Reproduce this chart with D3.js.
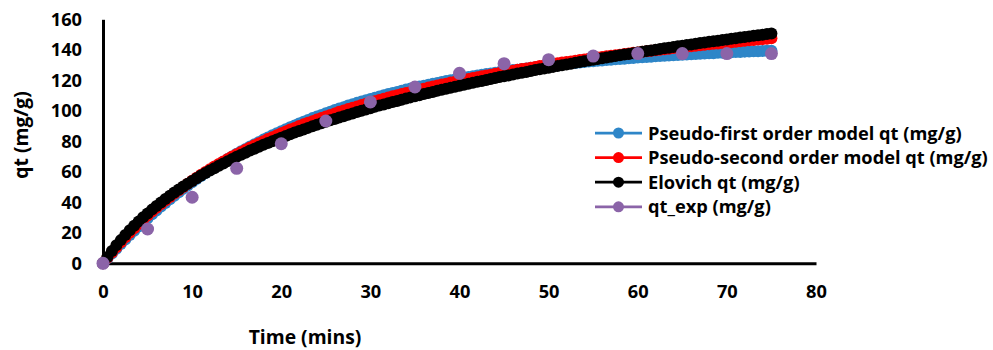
<!DOCTYPE html>
<html>
<head>
<meta charset="utf-8">
<script src="https://cdn.jsdelivr.net/npm/d3@7"></script>
<style>
  html, body { margin: 0; padding: 0; background: #fff; }
  svg { display: block; }
  text { font-family: "Open Sans", Lato, sans-serif; font-weight: 700; fill: #000; }
</style>
</head>
<body>
<svg id="chart" width="993" height="350"></svg>
<script>
// ---------- data ----------
// model curves: one marker every half minute, 0 .. 75 min
const timeModel = d3.range(0, 75.25, 0.5);
const pseudoFirst = [0, 3.3, 6.5, 9.6, 12.7, 15.6, 18.6, 21.4, 24.2, 26.9, 29.6, 32.2, 34.7, 37.2, 39.6, 42.0, 44.3, 46.6, 48.8, 51.0, 53.1, 55.2, 57.2, 59.2, 61.1, 63.0, 64.8, 66.6, 68.4, 70.1, 71.8, 73.4, 75.0, 76.6, 78.1, 79.6, 81.1, 82.5, 83.9, 85.3, 86.6, 87.9, 89.2, 90.4, 91.7, 92.9, 94.0, 95.2, 96.3, 97.3, 98.4, 99.4, 100.5, 101.5, 102.4, 103.4, 104.3, 105.2, 106.1, 106.9, 107.8, 108.6, 109.4, 110.2, 111.0, 111.7, 112.4, 113.2, 113.9, 114.6, 115.2, 115.9, 116.5, 117.1, 117.8, 118.3, 118.9, 119.5, 120.1, 120.6, 121.1, 121.7, 122.2, 122.7, 123.1, 123.6, 124.1, 124.5, 125.0, 125.4, 125.8, 126.2, 126.7, 127.0, 127.4, 127.8, 128.2, 128.5, 128.9, 129.2, 129.6, 129.9, 130.2, 130.5, 130.8, 131.1, 131.4, 131.7, 132.0, 132.3, 132.5, 132.8, 133.0, 133.3, 133.5, 133.8, 134.0, 134.2, 134.5, 134.7, 134.9, 135.1, 135.3, 135.5, 135.7, 135.9, 136.1, 136.2, 136.4, 136.6, 136.8, 136.9, 137.1, 137.2, 137.4, 137.5, 137.7, 137.8, 138.0, 138.1, 138.3, 138.4, 138.5, 138.6, 138.8, 138.9, 139.0, 139.1, 139.2, 139.3, 139.4];
const pseudoSecond = [0, 3.6, 7.1, 10.5, 13.8, 17.0, 20.0, 23.0, 25.8, 28.6, 31.3, 33.9, 36.4, 38.8, 41.2, 43.5, 45.8, 47.9, 50.1, 52.1, 54.1, 56.1, 58.0, 59.8, 61.6, 63.4, 65.1, 66.8, 68.4, 70.0, 71.5, 73.0, 74.5, 76.0, 77.4, 78.8, 80.1, 81.5, 82.7, 84.0, 85.3, 86.5, 87.7, 88.8, 90.0, 91.1, 92.2, 93.2, 94.3, 95.3, 96.3, 97.3, 98.3, 99.3, 100.2, 101.1, 102.0, 102.9, 103.8, 104.6, 105.5, 106.3, 107.1, 107.9, 108.7, 109.5, 110.2, 111.0, 111.7, 112.4, 113.2, 113.9, 114.5, 115.2, 115.9, 116.6, 117.2, 117.8, 118.5, 119.1, 119.7, 120.3, 120.9, 121.5, 122.0, 122.6, 123.2, 123.7, 124.3, 124.8, 125.3, 125.8, 126.3, 126.9, 127.4, 127.8, 128.3, 128.8, 129.3, 129.7, 130.2, 130.7, 131.1, 131.6, 132.0, 132.4, 132.9, 133.3, 133.7, 134.1, 134.5, 134.9, 135.3, 135.7, 136.1, 136.5, 136.8, 137.2, 137.6, 138.0, 138.3, 138.7, 139.0, 139.4, 139.7, 140.1, 140.4, 140.7, 141.1, 141.4, 141.7, 142.0, 142.3, 142.7, 143.0, 143.3, 143.6, 143.9, 144.2, 144.5, 144.7, 145.0, 145.3, 145.6, 145.9, 146.2, 146.4, 146.7, 147.0, 147.2, 147.5];
const elovich = [0, 4.2, 8.1, 11.8, 15.2, 18.5, 21.6, 24.6, 27.4, 30.2, 32.7, 35.2, 37.6, 39.9, 42.2, 44.3, 46.4, 48.4, 50.3, 52.2, 54.0, 55.8, 57.5, 59.2, 60.8, 62.4, 64.0, 65.5, 67.0, 68.4, 69.8, 71.2, 72.5, 73.9, 75.1, 76.4, 77.7, 78.9, 80.1, 81.2, 82.4, 83.5, 84.6, 85.7, 86.8, 87.8, 88.8, 89.9, 90.9, 91.8, 92.8, 93.8, 94.7, 95.6, 96.5, 97.4, 98.3, 99.2, 100.0, 100.9, 101.7, 102.6, 103.4, 104.2, 105.0, 105.7, 106.5, 107.3, 108.0, 108.8, 109.5, 110.2, 111.0, 111.7, 112.4, 113.1, 113.8, 114.4, 115.1, 115.8, 116.4, 117.1, 117.7, 118.4, 119.0, 119.6, 120.2, 120.9, 121.5, 122.1, 122.7, 123.2, 123.8, 124.4, 125.0, 125.5, 126.1, 126.7, 127.2, 127.8, 128.3, 128.8, 129.4, 129.9, 130.4, 130.9, 131.5, 132.0, 132.5, 133.0, 133.5, 134.0, 134.5, 135.0, 135.4, 135.9, 136.4, 136.9, 137.3, 137.8, 138.3, 138.7, 139.2, 139.6, 140.1, 140.5, 141.0, 141.4, 141.8, 142.3, 142.7, 143.1, 143.5, 143.9, 144.4, 144.8, 145.2, 145.6, 146.0, 146.4, 146.8, 147.2, 147.6, 148.0, 148.4, 148.8, 149.2, 149.6, 149.9, 150.3, 150.7];
const timeExp = [0, 5, 10, 15, 20, 25, 30, 35, 40, 45, 50, 55, 60, 65, 70, 75];
const qtExp = [0, 22.5, 43.3, 62.3, 78.4, 93.3, 105.8, 115.6, 124.6, 130.9, 133.5, 135.9, 137.5, 137.5, 137.5, 137.5];
const xTicks = [0, 10, 20, 30, 40, 50, 60, 70, 80];
const yTicks = [0, 20, 40, 60, 80, 100, 120, 140, 160];
const seriesNames = ["Pseudo-first order model qt (mg/g)", "Pseudo-second order model qt (mg/g)", "Elovich qt (mg/g)", "qt_exp (mg/g)"];
const seriesColors = ["#2E86C8", "#FF0000", "#000000", "#8B64A8"];
const xTitle = "Time (mins)";
const yTitle = "qt (mg/g)";

// ---------- chart ----------
const svg = d3.select("#chart");
const x = d3.scaleLinear().domain([0, 80]).range([103, 816]);
const y = d3.scaleLinear().domain([0, 160]).range([263.3, 19.3]);

// pick a font size so the longest legend label spans the same width as in the reference
const probe = svg.append("text").attr("font-size", 18).text(seriesNames[1]);
const probeW = probe.node().getComputedTextLength() || 340;
probe.remove();
const fs = Math.max(14, Math.min(22, 18 * 340 / probeW));

// axes
const gx = svg.append("g").attr("transform", `translate(0,${y(0)})`)
  .call(d3.axisBottom(x).tickValues(xTicks).tickSize(0).tickPadding(22).tickFormat(d3.format("d")));
const gy = svg.append("g").attr("transform", `translate(${x(0)},0)`)
  .call(d3.axisLeft(y).tickValues(yTicks).tickSize(0).tickPadding(21).tickFormat(d3.format("d")));
[gx, gy].forEach(g => {
  g.select(".domain").attr("stroke", "#000").attr("stroke-width", 3);
  g.selectAll("text").attr("font-size", fs).attr("font-family", "'Open Sans', Lato, sans-serif")
    .attr("font-weight", 700).attr("fill", "#000");
});

// model series (line + markers)
const models = [pseudoFirst, pseudoSecond, elovich];
const line = d3.line().x((d, i) => x(timeModel[i])).y(d => y(d));
models.forEach((vals, k) => {
  const g = svg.append("g");
  g.append("path").datum(vals).attr("d", line).attr("fill", "none")
    .attr("stroke", seriesColors[k]).attr("stroke-width", 2.75);
  g.selectAll("circle").data(vals).join("circle")
    .attr("cx", (d, i) => x(timeModel[i])).attr("cy", d => y(d))
    .attr("r", 6).attr("fill", seriesColors[k]);
});

// experimental points
svg.append("g").selectAll("circle").data(qtExp).join("circle")
  .attr("cx", (d, i) => x(timeExp[i])).attr("cy", d => y(d))
  .attr("r", 6.5).attr("fill", seriesColors[3]);

// axis titles
const tfs = fs * 1.06;
svg.append("text").attr("x", 305).attr("y", 337).attr("dy", "0.36em").attr("text-anchor", "middle")
  .attr("font-size", tfs).text(xTitle);
svg.append("text").attr("transform", "translate(21,135) rotate(-90)").attr("dy", "0.36em").attr("text-anchor", "middle")
  .attr("font-size", tfs).text(yTitle);

// legend
const leg = svg.append("g");
seriesNames.forEach((name, i) => {
  const cy = 133 + i * 24.6;
  leg.append("line").attr("x1", 595).attr("x2", 642).attr("y1", cy).attr("y2", cy)
    .attr("stroke", seriesColors[i]).attr("stroke-width", 2.75);
  leg.append("circle").attr("cx", 618.5).attr("cy", cy).attr("r", 5.5).attr("fill", seriesColors[i]);
  leg.append("text").attr("x", 648).attr("y", cy).attr("dy", "0.36em")
    .attr("font-size", fs).text(name);
});
</script>
</body>
</html>
